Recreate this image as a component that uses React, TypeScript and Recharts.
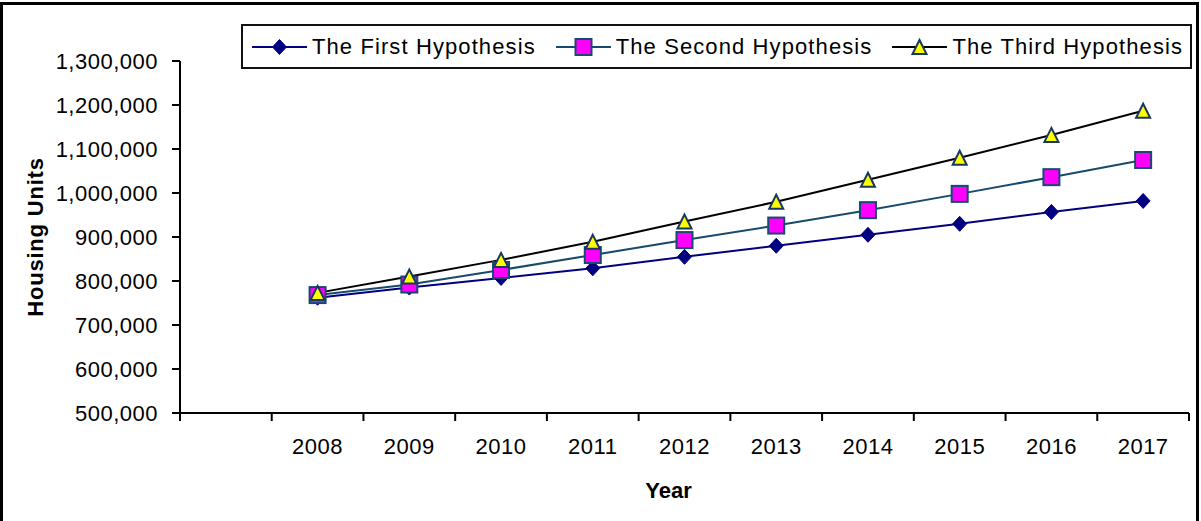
import { Legend, Line, LineChart, XAxis, YAxis } from "recharts";

// values
const years = [2008, 2009, 2010, 2011, 2012, 2013, 2014, 2015, 2016, 2017];
const firstHypothesis = [762000, 785000, 807000, 829000, 855000, 880000, 905000, 930000, 957000, 982000];
const secondHypothesis = [768000, 792000, 825000, 859000, 893000, 926000, 961000, 998000, 1036000, 1075000];
const thirdHypothesis = [773000, 810000, 848000, 889000, 935000, 980000, 1030000, 1080000, 1132000, 1187000];

const yTicks = [500000, 600000, 700000, 800000, 900000, 1000000, 1100000, 1200000, 1300000];
// tick marks sit between the years (Excel style), plus one empty slot before 2008
const xTickMarks = [2006.5, 2007.5, 2008.5, 2009.5, 2010.5, 2011.5, 2012.5, 2013.5, 2014.5, 2015.5, 2016.5, 2017.5];

const data = years.map((year, i) => ({
  year,
  first: firstHypothesis[i],
  second: secondHypothesis[i],
  third: thirdHypothesis[i],
}));

const FONT = "'Liberation Sans', Arial, sans-serif";
const NAVY = "#000080";
const TEAL = "#164a6e";
const MARKER_EDGE = "#17375e";

function Diamond({ cx, cy }: { cx: number; cy: number }) {
  return (
    <polygon
      points={`${cx},${cy - 7.5} ${cx + 7},${cy} ${cx},${cy + 7.5} ${cx - 7},${cy}`}
      fill={NAVY}
      stroke={NAVY}
      strokeWidth={1}
    />
  );
}

function Square({ cx, cy }: { cx: number; cy: number }) {
  return <rect x={cx - 8} y={cy - 8} width={16} height={16} fill="#FF00FF" stroke={TEAL} strokeWidth={2} />;
}

function Triangle({ cx, cy }: { cx: number; cy: number }) {
  return (
    <polygon
      points={`${cx},${cy - 7} ${cx + 7},${cy + 7} ${cx - 7},${cy + 7}`}
      fill="#FFFF00"
      stroke={MARKER_EDGE}
      strokeWidth={2}
      strokeLinejoin="miter"
    />
  );
}

const markers: Record<string, (p: { cx: number; cy: number }) => JSX.Element> = {
  first: Diamond,
  second: Square,
  third: Triangle,
};
const lineColors: Record<string, string> = { first: NAVY, second: TEAL, third: "#000" };

function XTick({ x, y, payload }: any) {
  const v = payload.value;
  if (!Number.isInteger(v)) {
    return <line x1={x} x2={x} y1={y} y2={y + 8} stroke="#000" strokeWidth={2} />;
  }
  return (
    <text x={x} y={y + 41} textAnchor="middle" fill="#000" fontSize={22} fontFamily={FONT} letterSpacing={0.5}>
      {v}
    </text>
  );
}

function LegendBox({ payload }: any) {
  const items = (payload || []) as any[];
  return (
    <div
      style={{
        boxSizing: "border-box",
        width: 951,
        height: 45,
        border: "2px solid #111",
        background: "#fff",
        display: "flex",
        alignItems: "center",
        paddingLeft: 9,
        gap: 20,
        fontFamily: FONT,
        fontSize: 22,
        letterSpacing: 1.1,
        color: "#000",
      }}
    >
      {items.map((entry) => {
        const key = String(entry.dataKey);
        const Marker = markers[key];
        return (
          <div key={key} style={{ display: "flex", alignItems: "center" }}>
            <svg width={55} height={20} style={{ display: "block" }}>
              <line x1={0} x2={55} y1={10} y2={10} stroke={lineColors[key]} strokeWidth={2} />
              <Marker cx={27.5} cy={10} />
            </svg>
            <span style={{ marginLeft: 5, whiteSpace: "nowrap" }}>{entry.value}</span>
          </div>
        );
      })}
    </div>
  );
}

export default function App() {
  return (
    <div
      style={{
        position: "absolute",
        left: 0,
        top: 0,
        width: 1201,
        height: 521,
        overflow: "hidden",
        background: "#fff",
        fontFamily: FONT,
      }}
    >
      <div
        style={{
          position: "absolute",
          left: 0,
          top: 2,
          width: 1199,
          height: 540,
          border: "3px solid #000",
          boxSizing: "border-box",
        }}
      />
      <div style={{ position: "absolute", left: 0, top: 0 }}>
        <LineChart width={1201} height={521} data={data} margin={{ top: 61, right: 12, left: 30, bottom: 18 }}>
          <XAxis
            dataKey="year"
            type="number"
            domain={[2006.5, 2017.5]}
            ticks={[...xTickMarks, ...years]}
            interval={0}
            tickLine={false}
            tickSize={0}
            tickMargin={0}
            tick={<XTick />}
            axisLine={{ stroke: "#000", strokeWidth: 2 }}
            height={90}
            label={{
              value: "Year",
              position: "insideBottom",
              offset: 5,
              dx: -16,
              fill: "#000",
              fontSize: 22,
              fontWeight: "bold",
              fontFamily: FONT,
            }}
          />
          <YAxis
            type="number"
            domain={[500000, 1300000]}
            ticks={yTicks}
            interval={0}
            width={150}
            tickSize={8}
            tickMargin={14}
            tickFormatter={(v: number) => v.toLocaleString("en-US")}
            tick={{ fill: "#000", fontSize: 22, fontFamily: FONT, letterSpacing: 0.5 }}
            tickLine={{ stroke: "#000", strokeWidth: 2 }}
            axisLine={{ stroke: "#000", strokeWidth: 2 }}
            label={{
              value: "Housing Units",
              angle: -90,
              position: "insideLeft",
              offset: 5,
              fill: "#000",
              fontSize: 22,
              fontWeight: "bold",
              fontFamily: FONT,
              letterSpacing: 0.8,
              style: { textAnchor: "middle" },
            }}
          />
          <Legend
            layout="horizontal"
            verticalAlign="middle"
            align="center"
            wrapperStyle={{ top: 24, left: 241, width: 951, height: 45 }}
            content={<LegendBox />}
          />
          <Line
            dataKey="first"
            name="The First Hypothesis"
            type="linear"
            stroke={NAVY}
            strokeWidth={2}
            dot={(p: any) => <Diamond key={`d${p.index}`} cx={p.cx} cy={p.cy} />}
            activeDot={false}
            isAnimationActive={false}
          />
          <Line
            dataKey="second"
            name="The Second Hypothesis"
            type="linear"
            stroke={TEAL}
            strokeWidth={2}
            dot={(p: any) => <Square key={`s${p.index}`} cx={p.cx} cy={p.cy} />}
            activeDot={false}
            isAnimationActive={false}
          />
          <Line
            dataKey="third"
            name="The Third Hypothesis"
            type="linear"
            stroke="#000"
            strokeWidth={2}
            dot={(p: any) => <Triangle key={`t${p.index}`} cx={p.cx} cy={p.cy} />}
            activeDot={false}
            isAnimationActive={false}
          />
        </LineChart>
      </div>
    </div>
  );
}
